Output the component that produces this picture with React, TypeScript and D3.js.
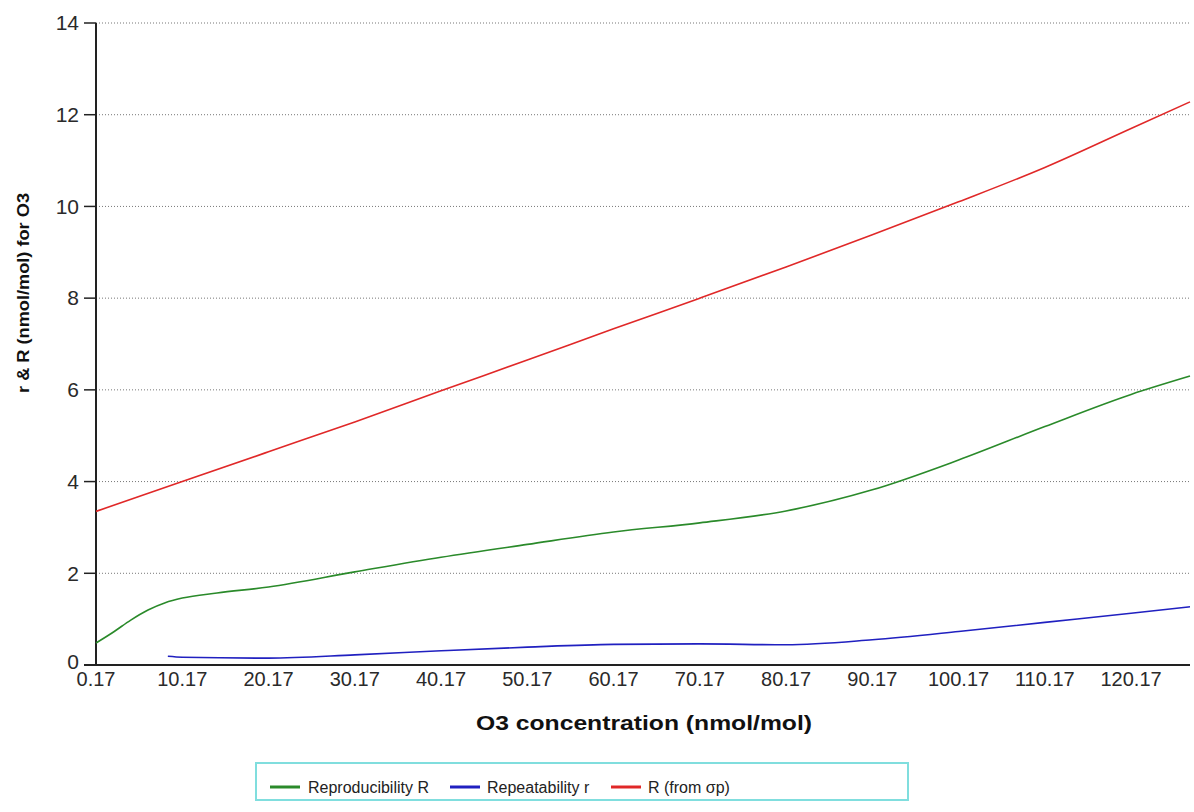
import React from "react";
import * as d3 from "d3";

const xTicks = [0.17, 10.17, 20.17, 30.17, 40.17, 50.17, 60.17, 70.17, 80.17, 90.17, 100.17, 110.17, 120.17];
const yTicks = [0, 2, 4, 6, 8, 10, 12, 14];

const greenX = [0.17, 2.2, 4.2, 6.2, 8.2, 10.17, 14.2, 20.17, 30.17, 40.17, 50.17, 60.17, 70.17, 80.17, 90.17, 100.17, 110.17, 120.17, 127];
const greenY = [0.48, 0.72, 0.98, 1.2, 1.36, 1.46, 1.57, 1.7, 2.03, 2.35, 2.63, 2.9, 3.1, 3.36, 3.82, 4.47, 5.2, 5.9, 6.3];

const blueX = [8.5, 10.17, 20.17, 30.17, 40.17, 50.17, 60.17, 70.17, 80.17, 90.17, 100.17, 110.17, 120.17, 127];
const blueY = [0.19, 0.17, 0.15, 0.22, 0.31, 0.39, 0.45, 0.46, 0.44, 0.55, 0.73, 0.93, 1.13, 1.27];

const redX = [0.17, 10.17, 20.17, 30.17, 40.17, 50.17, 60.17, 70.17, 80.17, 90.17, 100.17, 110.17, 120.17, 127];
const redY = [3.35, 4.0, 4.65, 5.3, 5.98, 6.65, 7.33, 8.0, 8.68, 9.38, 10.1, 10.85, 11.7, 12.28];

const seriesNames = ["Reproducibility R", "Repeatability r", "R (from \u03c3p)"];
const seriesColors = ["#2a8a2a", "#2020c0", "#e02828"];

export default function App() {
  const W = 1194, H = 812;
  const left = 96, right = 1190, top = 23, bottom = 665;
  const x = d3.scaleLinear().domain([0.17, 127]).range([left, right]);
  const y = d3.scaleLinear().domain([0, 14]).range([bottom, top]);
  const line = d3.line<[number, number]>().x(d => x(d[0])).y(d => y(d[1])).curve(d3.curveMonotoneX);
  const series = [
    greenX.map((v, i) => [v, greenY[i]] as [number, number]),
    blueX.map((v, i) => [v, blueY[i]] as [number, number]),
    redX.map((v, i) => [v, redY[i]] as [number, number]),
  ];
  const font = "'Liberation Sans', Arial, sans-serif";
  const legendItems = [
    { lx: 270, tx: 308 },
    { lx: 450, tx: 487 },
    { lx: 611, tx: 648 },
  ];
  return (
    <svg width={W} height={H} style={{ position: "absolute", left: 0, top: 0, background: "#fff" }} fontFamily={font}>
      <rect x={0} y={0} width={W} height={H} fill="#fff" />
      {yTicks.filter(t => t > 0).map(t => (
        <line key={"g" + t} x1={left} x2={right} y1={y(t)} y2={y(t)} stroke="#777" strokeWidth={1} strokeDasharray="1,2" />
      ))}
      {yTicks.map(t => (
        <g key={"yt" + t}>
          <line x1={84} x2={left} y1={y(t)} y2={y(t)} stroke="#222" strokeWidth={1.5} />
          <text x={79} y={t === 0 ? y(t) - 3 : y(t)} dy="0.35em" textAnchor="end" fontSize={21} fill="#2a2a2a">{t}</text>
        </g>
      ))}
      {xTicks.map(t => (
        <text key={"xt" + t} x={x(t)} y={bottom + 21} textAnchor="middle" fontSize={20} fill="#2a2a2a">{t.toFixed(2)}</text>
      ))}
      <line x1={left} x2={left} y1={top} y2={bottom} stroke="#222" strokeWidth={2} />
      <line x1={84} x2={right} y1={bottom} y2={bottom} stroke="#222" strokeWidth={2} />
      {series.map((s, i) => (
        <path key={"s" + i} d={line(s) || ""} fill="none" stroke={seriesColors[i]} strokeWidth={1.6} />
      ))}
      <text x={644} y={730} textAnchor="middle" fontSize={21} fontWeight="bold" fill="#111" textLength={336} lengthAdjust="spacingAndGlyphs">O3 concentration (nmol/mol)</text>
      <text transform={`translate(29, 293) rotate(-90)`} textAnchor="middle" fontSize={17} fontWeight="bold" fill="#111" textLength={200} lengthAdjust="spacingAndGlyphs">r &amp; R (nmol/mol) for O3</text>
      <rect x={256} y={763} width={652} height={37} fill="#fff" stroke="#80dede" strokeWidth={2} />
      {seriesNames.map((n, i) => (
        <g key={"l" + i}>
          <line x1={legendItems[i].lx} x2={legendItems[i].lx + 30} y1={787} y2={787} stroke={seriesColors[i]} strokeWidth={3} />
          <text x={legendItems[i].tx} y={787} dy="0.35em" fontSize={16} fill="#222">{n}</text>
        </g>
      ))}
    </svg>
  );
}
